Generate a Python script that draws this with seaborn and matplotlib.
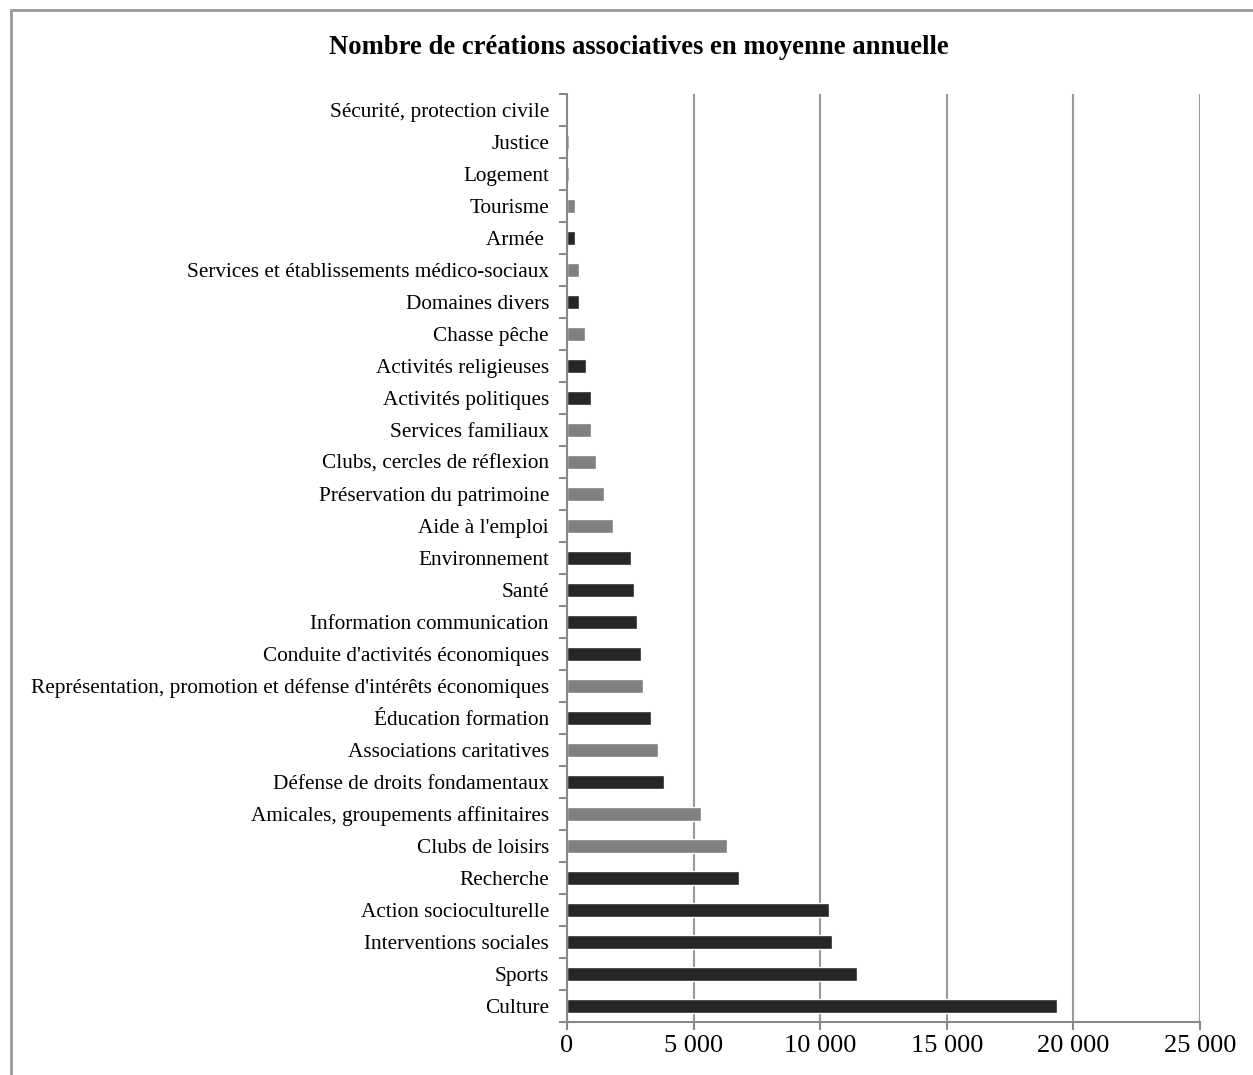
import numpy as np
import pandas as pd
import seaborn as sns
import matplotlib.pyplot as plt
from matplotlib.patches import Rectangle
from matplotlib.ticker import FuncFormatter, FixedLocator

# categories listed top to bottom, as in the chart
categories = [
    "Sécurité, protection civile", "Justice", "Logement", "Tourisme", "Armée ",
    "Services et établissements médico-sociaux", "Domaines divers", "Chasse pêche",
    "Activités religieuses", "Activités politiques", "Services familiaux",
    "Clubs, cercles de réflexion", "Préservation du patrimoine", "Aide à l'emploi",
    "Environnement", "Santé", "Information communication",
    "Conduite d'activités économiques",
    "Représentation, promotion et défense d'intérêts économiques",
    "Éducation formation", "Associations caritatives",
    "Défense de droits fondamentaux", "Amicales, groupements affinitaires",
    "Clubs de loisirs", "Recherche", "Action socioculturelle",
    "Interventions sociales", "Sports", "Culture",
]
values = [10, 80, 80, 320, 320, 470, 470, 710, 750, 950, 950, 1150, 1460, 1820,
          2530, 2650, 2760, 2920, 3000, 3320, 3590, 3830, 5290, 6320, 6790,
          10350, 10470, 11450, 19350]
# d = dark bar, g = grey bar
shade = ["d", "g", "g", "g", "d", "g", "d", "g", "d", "d", "g", "g", "g", "g",
         "d", "d", "d", "d", "g", "d", "g", "d", "g", "g", "d", "d", "d", "d", "d"]

df = pd.DataFrame({"cat": categories, "val": values, "shade": shade})

sns.set_style("white")
plt.rcParams['font.family'] = ['Liberation Serif', 'DejaVu Serif']
plt.rcParams['text.color'] = 'black'
plt.rcParams['xtick.color'] = 'black'
plt.rcParams['ytick.color'] = 'black'

fig = plt.figure(figsize=(12.53, 10.75), dpi=100)
ax = fig.add_axes([567 / 1253, 1 - 1022 / 1075, 633 / 1253, (1022 - 94) / 1075])

sns.barplot(data=df, x="val", y="cat", hue="shade", order=categories,
            palette={"d": "#262626", "g": "#808080"}, width=0.42,
            dodge=False, legend=False, orient="h", ax=ax, saturation=1)

ax.set_xlim(0, 25000)
ax.set_ylim(len(categories) - 0.5, -0.5)
ax.set_xticks(np.arange(0, 25001, 5000))
ax.xaxis.set_major_formatter(FuncFormatter(lambda v, p: f"{int(v):,}".replace(",", " ")))
ax.grid(axis="x", color="#999999", linewidth=1.5)
ax.set_axisbelow(True)
ax.set_xlabel("")
ax.set_ylabel("")

for s in ["top", "right"]:
    ax.spines[s].set_visible(False)
for s in ["left", "bottom"]:
    ax.spines[s].set_color("#888888")
    ax.spines[s].set_linewidth(1.5)

ax.tick_params(axis="y", which="major", length=0, labelsize=15.3, pad=13,
               labelcolor="black")
ax.yaxis.set_minor_locator(FixedLocator(np.arange(-0.5, len(categories), 1)))
ax.tick_params(axis="y", which="minor", length=6, width=1.5, color="#888888", left=True)
ax.tick_params(axis="x", which="major", length=6, width=1.5, color="#888888",
               labelsize=19, pad=3, bottom=True, labelcolor="black")

fig.suptitle("Nombre de créations associatives en moyenne annuelle",
             fontsize=19.2, fontweight="bold", x=639 / 1253, y=1 - 47 / 1075,
             va="center", color="black")

fig.patches.append(Rectangle((11 / 1253, -0.05), 1.2, 1.05 - 10 / 1075,
                             transform=fig.transFigure, fill=False,
                             edgecolor="#999999", linewidth=2))

fig.savefig("out.png", dpi=100)
